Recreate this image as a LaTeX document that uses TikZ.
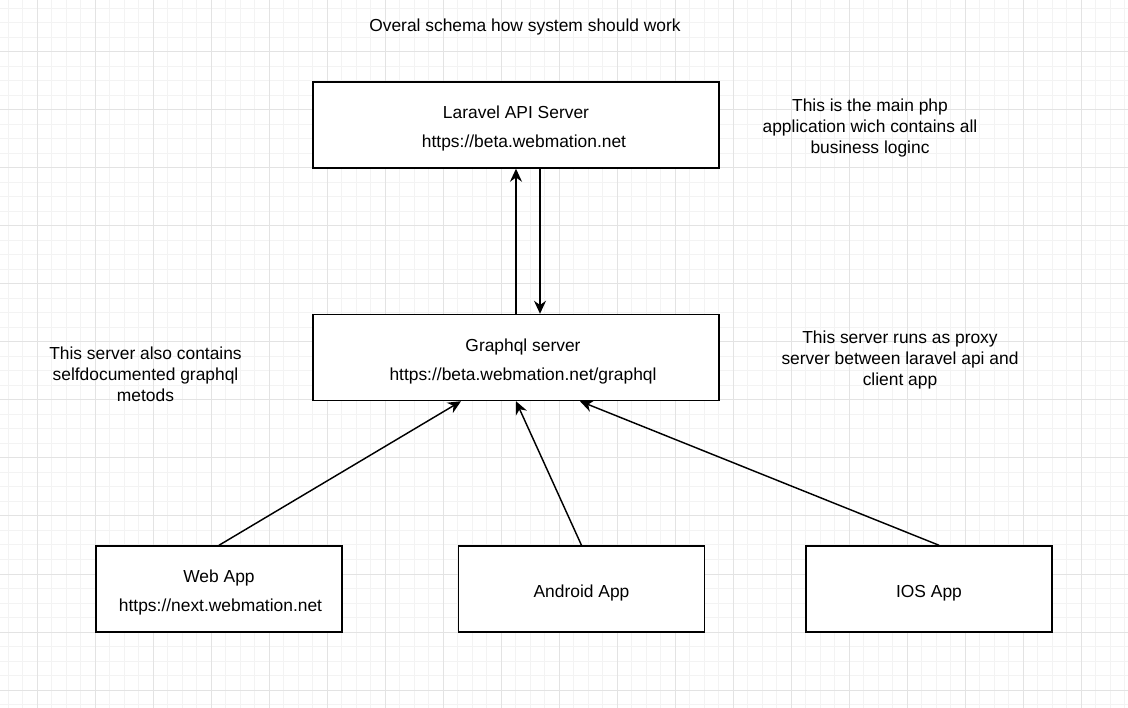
\documentclass[tikz,border=0pt]{standalone}
\usepackage{fontspec}
\setmainfont{Liberation Sans}
\usetikzlibrary{positioning, arrows.meta}
\definecolor{gridminor}{HTML}{F3F3F3}
\definecolor{gridmajor}{HTML}{E3E3E3}
\newcommand{\boxpad}{\rule{0pt}{20pt}}

\begin{document}
\begin{tikzpicture}[x=1pt, y=-1pt, line width=1.45pt,
        font=\fontsize{17.4}{21}\selectfont,
        box/.style={draw, fill=white, minimum width=406pt, minimum height=86pt, align=center},
        appbox/.style={draw, fill=white, minimum width=246pt, minimum height=86pt, align=center},
        note/.style={align=center, inner sep=0pt}]
        \useasboundingbox (0,0) rectangle (1128,708);
        % grid
        \foreach \gx in {8,22.5,...,1128} \draw[gridminor, line width=1pt] (\gx,0) -- (\gx,708);
        \foreach \gy in {8.5,23,...,708} \draw[gridminor, line width=1pt] (0,\gy) -- (1128,\gy);
        \foreach \gx in {37,95,...,1128} \draw[gridmajor, line width=1pt] (\gx,0) -- (\gx,708);
        \foreach \gy in {52,110,...,708} \draw[gridmajor, line width=1pt] (0,\gy) -- (1128,\gy);

        \node[note] (title) at (525,27) {Overal schema how system should work};
        \node[box] (api) at (516,125) {\boxpad Laravel API Server\\[8pt] \hspace*{16pt}https://beta.webmation.net};
        \node[box] (gql) at (516,357.5) {\boxpad\hspace*{14pt}Graphql server\\[8pt] \hspace*{14pt}https://beta.webmation.net/graphql};
        \node[appbox] (web) at (219,589) {\boxpad Web App\\[8pt] \hspace*{3pt}https://next.webmation.net};
        \node[appbox] (android) at (581.5,589) {\boxpad Android App};
        \node[appbox] (ios) at (929,589) {\boxpad IOS App};

        \node[note] (apinote) at (870,128) {This is the main php\\ application wich contains all\\ business loginc};
        \node[note] (gqlnote) at (145.5,374.5) {This server also contains\\ selfdocumented graphql\\ metods};
        \node[note] (proxynote) at (900,360.5) {This server runs as proxy\\ server between laravel api and\\ client app};

        \path[-{Stealth[length=13pt, width=12pt]}]
        (gql.north) edge (api.south)
        ([xshift=24pt]api.south) edge ([xshift=24pt]gql.north)
        (web.north) edge ([xshift=-55pt]gql.south)
        (android.north) edge (gql.south)
        ([xshift=10pt]ios.north) edge ([xshift=64pt]gql.south);
    \end{tikzpicture}
\end{document}
